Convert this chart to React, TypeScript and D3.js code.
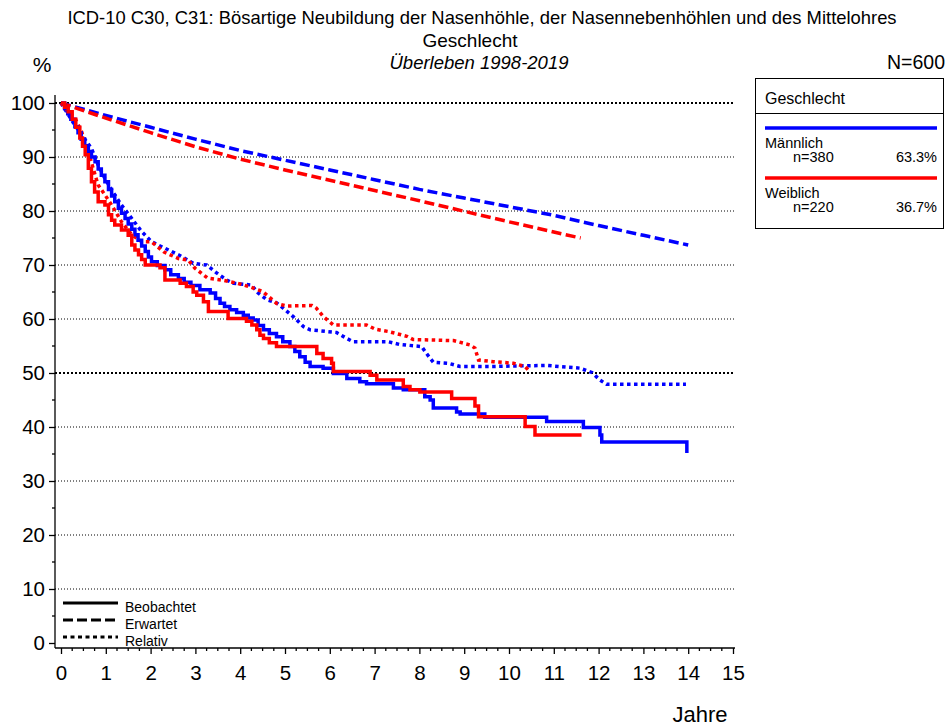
import React, { useEffect, useRef } from "react";
import * as d3 from "d3";

// axis ticks
const xTicks = [0, 1, 2, 3, 4, 5, 6, 7, 8, 9, 10, 11, 12, 13, 14, 15];
const yTicks = [0, 10, 20, 30, 40, 50, 60, 70, 80, 90, 100];

const groups = ["Männlich", "Weiblich"];
const groupN = ["n=380", "n=220"];
const groupPct = ["63.3%", "36.7%"];
const groupColors = ["#0000ff", "#ff0000"];

// observed survival (Beobachtet), [years, %]
const maleObserved: [number, number][] = [
  [0, 100], [0.08, 99], [0.15, 98], [0.22, 97], [0.31, 95.6], [0.38, 94.5], [0.45, 93.3], [0.53, 92.1],
  [0.61, 91], [0.68, 90], [0.76, 89.1], [0.83, 87.8], [0.9, 86.6], [0.98, 85.4], [1.06, 84], [1.13, 82.8],
  [1.2, 81.7], [1.28, 80.5], [1.35, 79.6], [1.43, 78.6], [1.5, 77.6], [1.58, 76.6], [1.65, 75.6], [1.72, 74.6],
  [1.8, 73.5], [1.88, 72.5], [1.95, 71.5], [2.02, 70.6], [2.15, 69.9], [2.32, 69.1], [2.45, 68.2], [2.62, 67.5],
  [2.75, 66.8], [2.9, 66.2], [3.1, 65.4], [3.33, 64.8], [3.45, 63.8], [3.55, 62.9], [3.65, 62.3], [3.77, 61.7],
  [3.92, 61.2], [4.07, 60.7], [4.18, 60.2], [4.29, 59.8], [4.4, 58.8], [4.52, 58], [4.65, 57.3], [4.81, 56.7],
  [4.95, 55.8], [5.11, 54.9], [5.22, 54], [5.33, 53], [5.45, 52], [5.56, 51.2], [5.85, 50.9], [6.08, 49.9],
  [6.38, 49], [6.67, 48.4], [6.82, 48], [7.42, 47.2], [7.64, 46.9], [8.12, 45.6], [8.24, 45], [8.31, 43.5],
  [8.83, 42.8], [8.91, 42.4], [9.46, 41.8], [10.84, 41], [11.66, 39.9], [12.03, 38.5], [12.07, 37.2], [13.97, 35.2],
];
const femaleObserved: [number, number][] = [
  [0, 100], [0.08, 99.2], [0.16, 98.4], [0.25, 97], [0.33, 95.5], [0.42, 93.5], [0.48, 92], [0.54, 90.4],
  [0.61, 87.9], [0.68, 85.4], [0.75, 83.5], [0.83, 81.7], [0.98, 81.1], [1.06, 79.3], [1.13, 78.3], [1.2, 77.4],
  [1.35, 76.5], [1.5, 75.5], [1.58, 73.7], [1.65, 72.8], [1.73, 71.9], [1.8, 71], [1.88, 70], [2.21, 69.5],
  [2.32, 67.2], [2.66, 66.6], [2.8, 66], [2.95, 65], [3.03, 64.4], [3.18, 63.2], [3.29, 61.4], [3.73, 60.1],
  [4.14, 59.6], [4.26, 58.9], [4.37, 58], [4.44, 57], [4.52, 56.4], [4.65, 55.6], [4.81, 54.9], [5.71, 53.6],
  [5.85, 52.7], [6.04, 51.8], [6.08, 50.3], [6.9, 49.6], [7.05, 48.7], [7.64, 47.5], [7.79, 46.9], [8.01, 46.5],
  [8.72, 45.3], [9.24, 43.9], [9.32, 41.9], [10.36, 40.1], [10.58, 38.5], [11.62, 38.5],
];

// expected survival (Erwartet)
const maleExpected: [number, number][] = [
  [0, 100], [1, 97.7], [2, 95.5], [3, 93.3], [4, 91.2], [5, 89.4], [6, 87.6], [7, 85.8],
  [8, 84], [9, 82.4], [10, 80.8], [11, 79.2], [12, 77.3], [13, 75.5], [14, 73.7],
];
const femaleExpected: [number, number][] = [
  [0, 100], [1, 97.2], [2, 94.5], [3, 91.9], [4, 89.6], [5, 87.6], [6, 85.7], [7, 83.8],
  [8, 81.9], [9, 79.95], [10, 78], [11, 76.1], [11.6, 75],
];

// relative survival (Relativ)
const maleRelative: [number, number][] = [
  [0, 100], [0.15, 98], [0.3, 96], [0.46, 94.1], [0.68, 91.6], [0.83, 88.5], [0.98, 86], [1.2, 83],
  [1.35, 81.1], [1.58, 78.6], [1.8, 76.2], [2.02, 74.3], [2.32, 73.1], [2.62, 71.9], [2.95, 70.3], [3.25, 70],
  [3.48, 68.5], [3.7, 67.2], [3.85, 66.6], [4.25, 66.3], [4.4, 64.8], [4.59, 63.6], [4.81, 63], [4.96, 62],
  [5.19, 60.4], [5.41, 58.6], [5.56, 58], [6.15, 57.5], [6.38, 56.4], [6.52, 55.8], [7.3, 55.8], [7.55, 55.3],
  [8.05, 54.9], [8.16, 53.6], [8.31, 52], [8.65, 51.8], [8.91, 51.2], [9.65, 51.2], [10.1, 51.3], [10.84, 51.4],
  [11.58, 50.9], [11.85, 50.1], [12.03, 48.7], [12.18, 47.9], [13.95, 47.9],
];
const femaleRelative: [number, number][] = [
  [0, 100], [0.15, 98.5], [0.31, 97.2], [0.46, 94.7], [0.61, 91], [0.76, 86.7], [0.83, 84.8], [0.98, 83],
  [1.13, 81.1], [1.35, 78], [1.58, 75.6], [1.8, 74.3], [2.02, 74.3], [2.3, 72.4], [2.62, 71.2], [2.84, 70.9],
  [2.99, 69.4], [3.27, 67.6], [3.6, 67.2], [3.9, 66.7], [4.2, 66], [4.5, 65.1], [4.81, 62.9], [5.04, 62.4],
  [5.6, 62.5], [5.7, 62], [5.85, 60.5], [6.08, 58.9], [6.82, 58.9], [7.02, 58.1], [7.3, 57.7], [7.72, 56.8],
  [7.86, 56.2], [8.76, 56], [9.13, 55.2], [9.24, 54.6], [9.32, 52.4], [9.65, 52.1], [10.1, 51.8], [10.36, 51.2],
  [10.47, 50.2],
];

const FONT = "Arial, 'Liberation Sans', sans-serif";

export default function App() {
  const ref = useRef<SVGSVGElement | null>(null);

  useEffect(() => {
    const svg = d3.select(ref.current);
    svg.selectAll("*").remove();

    const x = d3.scaleLinear().domain([0, 15]).range([61, 733]);
    const y = d3.scaleLinear().domain([0, 100]).range([643, 103]);

    // titles
    svg.append("text").attr("x", 482).attr("y", 24).attr("text-anchor", "middle")
      .style("font-family", FONT).style("font-size", "18.4px")
      .text("ICD-10 C30, C31: Bösartige Neubildung der Nasenhöhle, der Nasennebenhöhlen und des Mittelohres");
    svg.append("text").attr("x", 470).attr("y", 47).attr("text-anchor", "middle")
      .style("font-family", FONT).style("font-size", "19px").text("Geschlecht");
    svg.append("text").attr("x", 479).attr("y", 69).attr("text-anchor", "middle")
      .style("font-family", FONT).style("font-size", "18.5px").style("font-style", "italic")
      .text("Überleben 1998-2019");
    svg.append("text").attr("x", 42).attr("y", 72).attr("text-anchor", "middle")
      .style("font-family", FONT).style("font-size", "21px").text("%");
    svg.append("text").attr("x", 945).attr("y", 69).attr("text-anchor", "end")
      .style("font-family", FONT).style("font-size", "19.5px").text("N=600");

    // grid lines
    svg.append("g").selectAll("line").data(yTicks.filter(d => d > 0))
      .join("line")
      .attr("x1", 55).attr("x2", 735)
      .attr("y1", d => y(d)).attr("y2", d => y(d))
      .attr("stroke", "#000")
      .attr("stroke-width", d => (d === 100 || d === 50 ? 2 : 1))
      .attr("stroke-dasharray", d => (d === 100 || d === 50 ? "2,2" : "1,2"));

    // y axis
    const yAxis = d3.axisLeft(y).tickValues(yTicks).tickSize(6).tickPadding(4).tickFormat(d3.format("d"));
    const gy = svg.append("g").attr("transform", "translate(55,0)").call(yAxis);
    gy.select(".domain").attr("d", `M0,95V648`).attr("stroke-width", 1.3);
    gy.selectAll(".tick line").attr("stroke-width", 1.3);
    gy.selectAll(".tick text").style("font-family", FONT).style("font-size", "20.5px").attr("fill", "#000");
    gy.append("g").selectAll("line").data(d3.range(5, 100, 10))
      .join("line").attr("x1", -3).attr("x2", 0)
      .attr("y1", d => y(d)).attr("y2", d => y(d)).attr("stroke", "#000").attr("stroke-width", 1.3);

    // x axis
    const xAxis = d3.axisBottom(x).tickValues(xTicks).tickSize(6).tickPadding(11).tickFormat(d3.format("d"));
    const gx = svg.append("g").attr("transform", "translate(0,648)").call(xAxis);
    gx.select(".domain").attr("d", "M55,0H735").attr("stroke-width", 1.3);
    gx.selectAll(".tick line").attr("stroke-width", 1.3);
    gx.selectAll(".tick text").style("font-family", FONT).style("font-size", "20.5px").attr("fill", "#000");
    gx.append("g").selectAll("line").data(d3.range(0, 15, 0.25).filter(d => d % 1 !== 0))
      .join("line").attr("x1", d => x(d)).attr("x2", d => x(d))
      .attr("y1", 0).attr("y2", 3).attr("stroke", "#000").attr("stroke-width", 1.3);
    svg.append("text").attr("x", 700).attr("y", 722).attr("text-anchor", "middle")
      .style("font-family", FONT).style("font-size", "22px").text("Jahre");

    // curves
    const stepLine = d3.line<[number, number]>().x(d => x(d[0])).y(d => y(d[1])).curve(d3.curveStepAfter);
    const straight = d3.line<[number, number]>().x(d => x(d[0])).y(d => y(d[1]));

    const curves = [
      { data: maleExpected, color: groupColors[0], gen: straight, dash: "10,4.5" },
      { data: femaleExpected, color: groupColors[1], gen: straight, dash: "10,4.5" },
      { data: maleRelative, color: groupColors[0], gen: straight, dash: "3.5,3.5" },
      { data: femaleRelative, color: groupColors[1], gen: straight, dash: "3.5,3.5" },
      { data: maleObserved, color: groupColors[0], gen: stepLine, dash: null },
      { data: femaleObserved, color: groupColors[1], gen: stepLine, dash: null },
    ];
    svg.append("g").selectAll("path").data(curves)
      .join("path")
      .attr("d", d => d.gen(d.data))
      .attr("fill", "none")
      .attr("stroke", d => d.color)
      .attr("stroke-width", 3.5)
      .attr("stroke-dasharray", d => d.dash)
      .attr("stroke-linejoin", "miter");

    // line style legend (bottom left)
    const styles = [
      { label: "Beobachtet", dash: null },
      { label: "Erwartet", dash: "10,4" },
      { label: "Relativ", dash: "4,3.5" },
    ];
    const ls = svg.append("g");
    styles.forEach((s, i) => {
      const yy = 603 + i * 17;
      ls.append("line").attr("x1", 63).attr("x2", 118).attr("y1", yy).attr("y2", yy)
        .attr("stroke", "#000").attr("stroke-width", 3).attr("stroke-dasharray", s.dash);
      ls.append("text").attr("x", 125).attr("y", yy + 9)
        .style("font-family", FONT).style("font-size", "14px").text(s.label);
    });

    // group legend (top right)
    const lg = svg.append("g");
    lg.append("rect").attr("x", 755.5).attr("y", 78.5).attr("width", 188).attr("height", 150)
      .attr("fill", "#fff").attr("stroke", "#000").attr("stroke-width", 1);
    lg.append("line").attr("x1", 755.5).attr("x2", 943.5).attr("y1", 113.5).attr("y2", 113.5)
      .attr("stroke", "#000").attr("stroke-width", 1);
    lg.append("text").attr("x", 765).attr("y", 104)
      .style("font-family", FONT).style("font-size", "16px").text("Geschlecht");
    groups.forEach((g, i) => {
      const top = 128 + i * 50;
      lg.append("line").attr("x1", 765).attr("x2", 937).attr("y1", top).attr("y2", top)
        .attr("stroke", groupColors[i]).attr("stroke-width", 3.5);
      lg.append("text").attr("x", 765).attr("y", top + 20)
        .style("font-family", FONT).style("font-size", "14.5px").text(g);
      lg.append("text").attr("x", 793).attr("y", top + 34)
        .style("font-family", FONT).style("font-size", "14.5px").text(groupN[i]);
      lg.append("text").attr("x", 937).attr("y", top + 34).attr("text-anchor", "end")
        .style("font-family", FONT).style("font-size", "14.5px").text(groupPct[i]);
    });
  }, []);

  return (
    <svg ref={ref} width={948} height={728}
      style={{ position: "absolute", left: 0, top: 0, background: "#fff" }} />
  );
}
